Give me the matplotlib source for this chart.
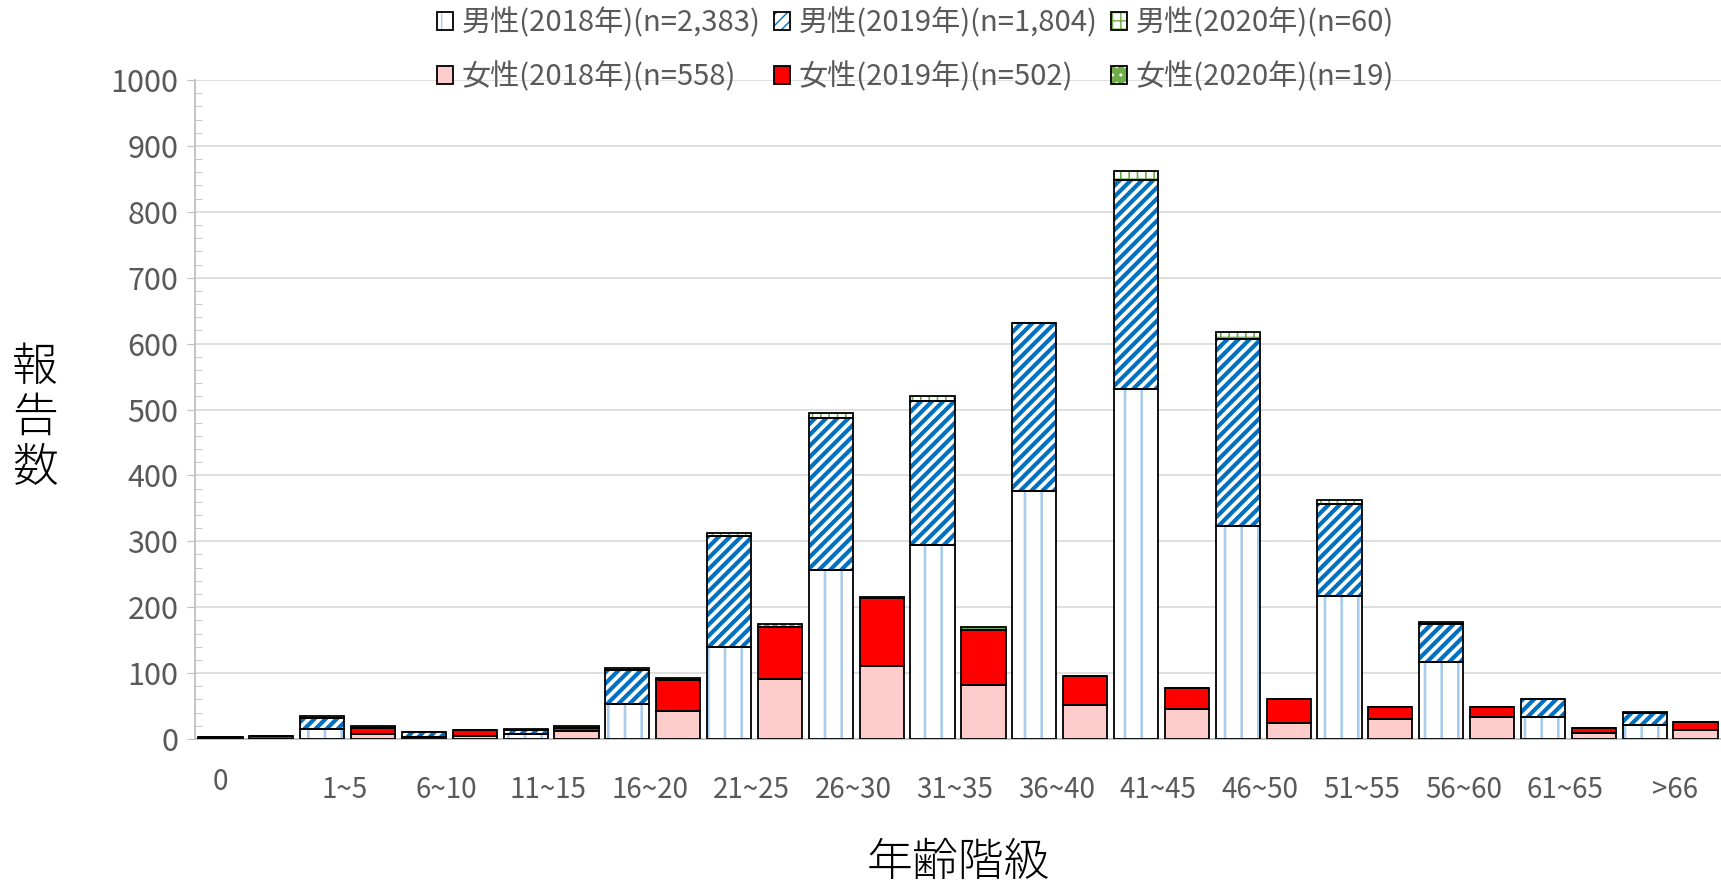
import matplotlib
matplotlib.use('Agg')
import matplotlib.pyplot as plt
from matplotlib.legend_handler import HandlerTuple
import numpy as np

plt.rcParams['font.family'] = ['Noto Sans CJK JP', 'DejaVu Sans']

# 年齢階級
age_groups = ['0', '1~5', '6~10', '11~15', '16~20', '21~25', '26~30', '31~35',
              '36~40', '41~45', '46~50', '51~55', '56~60', '61~65', '>66']
# 男性
male_2018 = [2, 15, 3, 7, 53, 140, 257, 295, 377, 531, 323, 217, 117, 33, 21]
male_2019 = [1, 17, 7, 7, 51, 168, 230, 218, 255, 318, 284, 140, 58, 27, 18]
male_2020 = [0, 3, 1, 1, 4, 4, 8, 7, 0, 13, 10, 5, 2, 0, 2]
# 女性
female_2018 = [0, 7, 5, 12, 42, 91, 111, 82, 52, 45, 25, 30, 33, 9, 14]
female_2019 = [5, 10, 8, 5, 47, 79, 103, 84, 43, 32, 35, 19, 16, 8, 12]
female_2020 = [0, 2, 1, 2, 3, 4, 2, 4, 1, 0, 0, 0, 0, 0, 0]

labels_m = ['男性(2018年)(n=2,383)', '男性(2019年)(n=1,804)', '男性(2020年)(n=60)']
labels_f = ['女性(2018年)(n=558)', '女性(2019年)(n=502)', '女性(2020年)(n=19)']

# 目盛ラベルの位置 (Excel の表示に合わせてずらす)
tick_offset = [0] + [0.44] * 13 + [0.6]

fig = plt.figure(figsize=(17.21, 8.91), dpi=100)
ax = fig.add_axes([195 / 1721, 152 / 891, 1526 / 1721, 659 / 891])

n = len(age_groups)
x_m = np.arange(n) * 2
x_f = np.arange(n) * 2 + 1
width = 0.87


def stacked(x, series, styles):
    bottom = np.zeros(len(x))
    handles = []
    for vals, (face, hcol, hatch, hlw) in zip(series, styles):
        vals = np.array(vals, dtype=float)
        with plt.rc_context({'hatch.linewidth': hlw}):
            b1 = ax.bar(x, vals, width, bottom=bottom, color=face,
                        edgecolor=hcol, linewidth=0, hatch=hatch, zorder=2)
        for p in b1:
            if hasattr(p, 'set_hatch_linewidth'):
                p.set_hatch_linewidth(hlw)
        b2 = ax.bar(x, vals, width, bottom=bottom, fill=False,
                    edgecolor='black', linewidth=1.3, zorder=3)
        handles.append((b1[0], b2[0]))
        bottom += vals
    return handles


male_styles = [('white', '#a9cbec', '|', 1.9),
               ('white', '#0070c0', '///', 3.0),
               ('white', '#70ad47', '++', 1.2)]
female_styles = [('#ffcccc', '#ffcccc', None, 1.0),
                 ('#ff0000', '#ff0000', None, 1.0),
                 ('#70ad47', 'white', '..', 1.0)]

h_m = stacked(x_m, [male_2018, male_2019, male_2020], male_styles)
h_f = stacked(x_f, [female_2018, female_2019, female_2020], female_styles)

ax.set_xlim(-0.5, 2 * n - 0.5)
ax.set_ylim(0, 1000)
ax.set_yticks(np.arange(0, 1001, 100))
ax.set_yticks(np.arange(0, 1001, 20), minor=True)
ax.set_xticks(x_m + np.array(tick_offset))
ax.set_xticklabels(age_groups)

ax.grid(axis='y', color='#d9d9d9', linewidth=1.2, zorder=0)
ax.set_axisbelow(True)
for s in ['top', 'right']:
    ax.spines[s].set_visible(False)
for s in ['left', 'bottom']:
    ax.spines[s].set_color('#bfbfbf')
    ax.spines[s].set_linewidth(1.3)

ax.tick_params(axis='y', which='major', direction='out', length=6, color='#bfbfbf',
               labelsize=22, labelcolor='#595959', pad=6)
ax.tick_params(axis='y', which='minor', direction='in', length=5, color='#bfbfbf')
ax.tick_params(axis='x', length=0, labelsize=20, labelcolor='#595959', pad=26)
# "0" のラベルは少し上
ax.get_xticklabels()[0].set_y(0.012)

ax.set_xlabel('年齢階級', fontsize=33, color='black', labelpad=25, fontweight='light')
fig.text(35 / 1721, 1 - 418 / 891, '報\n告\n数', fontsize=33, ha='center', va='center',
         linespacing=1.05, fontweight='light')

handles = [h_m[0], h_f[0], h_m[1], h_f[1], h_m[2], h_f[2]]
labels = [labels_m[0], labels_f[0], labels_m[1], labels_f[1], labels_m[2], labels_f[2]]
leg = fig.legend(handles, labels, ncol=3, loc='center', bbox_to_anchor=(0.532, 1 - 50 / 891),
                 frameon=False, fontsize=21, handlelength=0.55, handleheight=0.55,
                 handletextpad=0.3, columnspacing=0.45, labelspacing=0.8,
                 handler_map={tuple: HandlerTuple(ndivide=1, pad=0)})
for t in leg.get_texts():
    t.set_color('#595959')

fig.savefig('out.png', dpi=100)
